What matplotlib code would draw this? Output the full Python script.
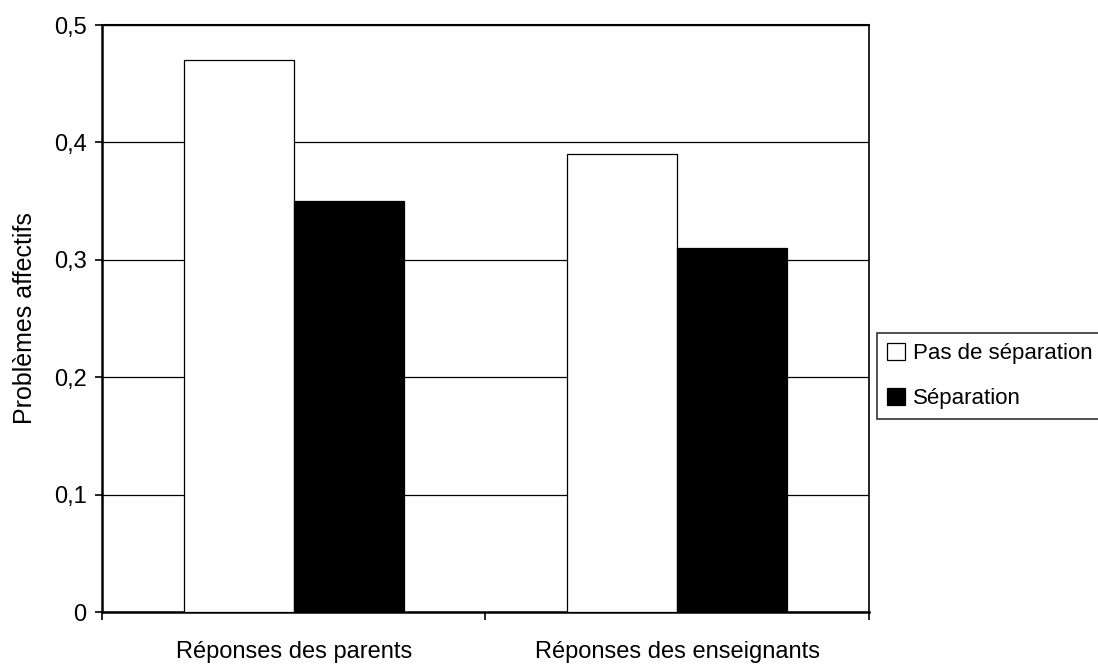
import matplotlib
matplotlib.use("Agg")
import matplotlib.pyplot as plt
from matplotlib.patches import Patch
import numpy as np

plt.rcParams['font.family'] = ['Liberation Sans', 'DejaVu Sans']

categories = ["Réponses des parents", "Réponses des enseignants"]
series_names = ["Pas de séparation", "Séparation"]
pas_de_separation = [0.47, 0.39]
separation = [0.35, 0.31]
y_ticks = [0, 0.1, 0.2, 0.3, 0.4, 0.5]
y_tick_labels = ["0", "0,1", "0,2", "0,3", "0,4", "0,5"]

TICK_FS = 17
LEG_FS = 16

fig = plt.figure(figsize=(10.98, 6.64), dpi=100)
ax = fig.add_axes([0.0929, 0.0783, 0.6985, 0.884])

x = np.arange(len(categories))
w = 0.2868
ax.bar(x - w / 2, pas_de_separation, width=w, color="white", edgecolor="black",
       linewidth=0.9, zorder=3)
ax.bar(x + w / 2, separation, width=w, color="black", edgecolor="black",
       linewidth=0.9, zorder=3)

ax.set_xlim(-0.5, len(categories) - 0.5)
ax.set_ylim(0, 0.5)
ax.set_yticks(y_ticks)
ax.set_yticklabels(y_tick_labels, fontsize=TICK_FS)
ax.yaxis.grid(True, color="black", linewidth=0.9, zorder=0)
ax.set_axisbelow(True)

# category boundaries as major ticks, labels centred on minor ticks
ax.set_xticks(np.arange(len(categories) + 1) - 0.5)
ax.set_xticklabels([])
ax.set_xticks(x, minor=True)
ax.set_xticklabels(categories, minor=True, fontsize=TICK_FS)
ax.tick_params(axis="x", which="major", direction="out", length=6, width=1.2)
ax.tick_params(axis="x", which="minor", length=0, pad=21)
ax.tick_params(axis="y", direction="out", length=5, width=1.2, pad=6)

ax.spines["left"].set_linewidth(1.8)
ax.spines["bottom"].set_linewidth(1.8)
ax.spines["top"].set_linewidth(1.5)
ax.spines["right"].set_linewidth(1.2)

ax.set_ylabel("Problèmes affectifs", fontsize=18, labelpad=12)

handles = [Patch(facecolor="white", edgecolor="black", linewidth=0.9),
           Patch(facecolor="black", edgecolor="black", linewidth=0.9)]
leg = fig.legend(handles, series_names, loc="upper left",
                 bbox_to_anchor=(877 / 1098, 1 - 333 / 664), fontsize=LEG_FS,
                 frameon=True, fancybox=False, edgecolor="black",
                 handlelength=0.8, handleheight=0.8, handletextpad=0.35,
                 labelspacing=1.07, borderpad=0.45, borderaxespad=0)
leg.get_frame().set_linewidth(1.2)

fig.savefig("out.png", dpi=100)
